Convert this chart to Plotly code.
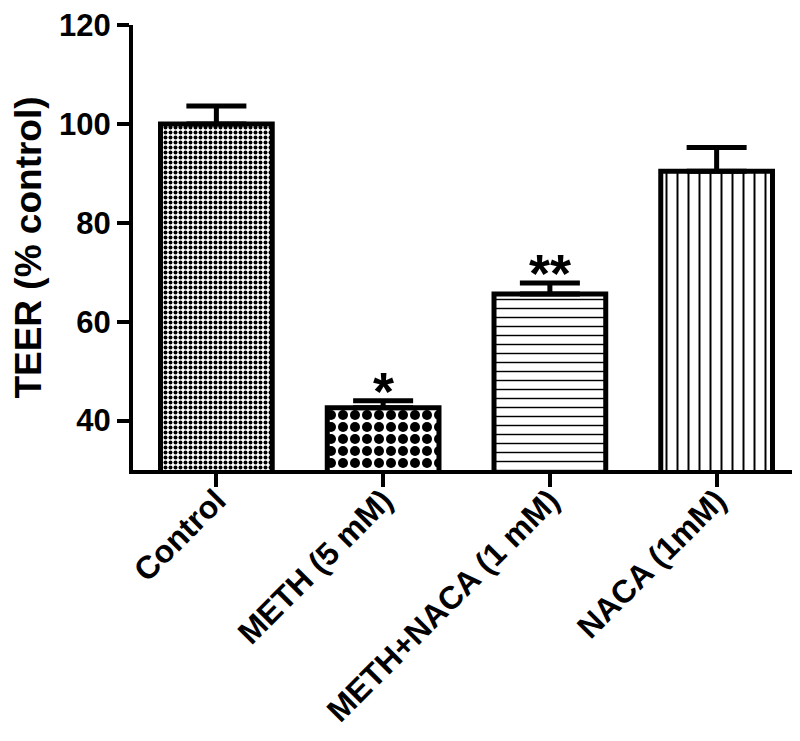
import plotly.graph_objects as go

CATEGORIES = ["Control", "METH (5 mM)", "METH+NACA (1 mM)", "NACA (1mM)"]
TEER_MEAN = [100.0, 42.6, 65.6, 90.4]
TEER_SEM = [3.6, 1.4, 2.2, 4.8]
SIGNIFICANCE = ["", "*", "**", ""]

# fill pattern for each bar: fine checks, coarse checks, horizontal, vertical
PATTERN_SHAPES = [".", ".", "-", "|"]
PATTERN_SIZES = [5, 12, 9, 11]
PATTERN_SOLIDITY = [0.5, 0.55, 0.16, 0.18]

FONT = "Liberation Sans, Arial, sans-serif"

fig = go.Figure()

fig.add_trace(
    go.Bar(
        x=CATEGORIES,
        y=TEER_MEAN,
        width=0.67,
        marker=dict(
            color="white",
            line=dict(color="black", width=5),
            pattern=dict(
                shape=PATTERN_SHAPES,
                size=PATTERN_SIZES,
                solidity=PATTERN_SOLIDITY,
                fgcolor="black",
                bgcolor="white",
                fillmode="replace",
            ),
        ),
        error_y=dict(
            type="data",
            symmetric=False,
            array=TEER_SEM,
            arrayminus=[0] * len(TEER_SEM),
            color="black",
            thickness=5,
            width=30,
        ),
        showlegend=False,
    )
)

for cat, mean, sem, mark in zip(CATEGORIES, TEER_MEAN, TEER_SEM, SIGNIFICANCE):
    if not mark:
        continue
    fig.add_annotation(
        x=cat,
        y=mean + sem,
        text=mark,
        showarrow=False,
        yanchor="middle",
        yshift=10,
        font=dict(family=FONT, size=54, color="black", weight="bold"),
    )

fig.update_layout(
    width=800,
    height=741,
    margin=dict(l=125, r=8, t=17, b=279),
    plot_bgcolor="white",
    paper_bgcolor="white",
    font=dict(family=FONT, color="black"),
)

fig.update_xaxes(
    range=[-0.5, 3.5],
    automargin=False,
    showline=True,
    linecolor="black",
    linewidth=4,
    ticks="outside",
    ticklen=13,
    tickwidth=4,
    tickcolor="black",
    tickangle=-45,
    ticklabelstandoff=-18,
    ticklabeloverflow="allow",
    tickfont=dict(family=FONT, size=32, weight="bold"),
    showgrid=False,
    zeroline=False,
)

fig.update_yaxes(
    range=[30, 120],
    dtick=20,
    automargin=False,
    showline=True,
    linecolor="black",
    linewidth=4,
    ticks="outside",
    ticklen=12,
    tickwidth=4,
    tickcolor="black",
    ticklabeloverflow="allow",
    tickfont=dict(family=FONT, size=31, weight="bold"),
    title=dict(
        text="TEER (% control)",
        font=dict(family=FONT, size=37, weight="bold"),
        standoff=10,
    ),
    showgrid=False,
    zeroline=False,
)

fig.write_html("out.html")
